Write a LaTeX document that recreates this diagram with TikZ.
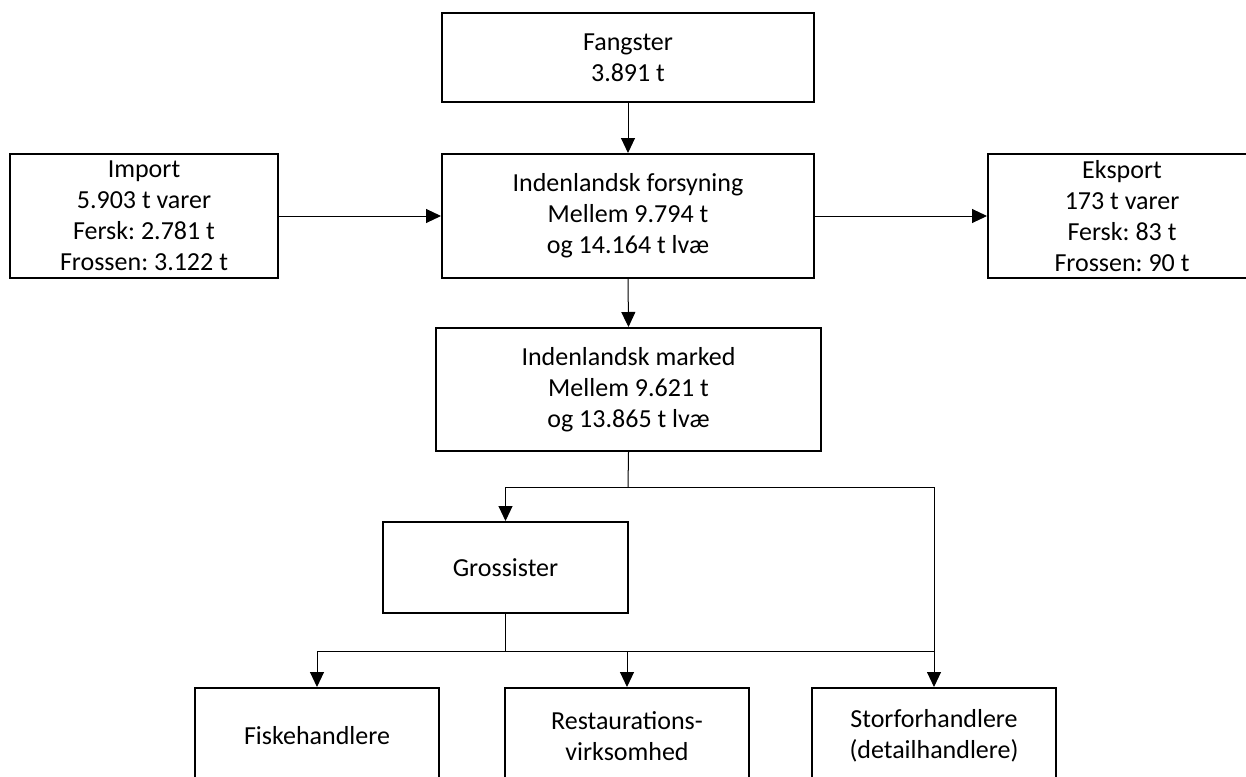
\documentclass[tikz,border=0pt]{standalone}
\usepackage{fontspec}
\setmainfont{Carlito}
\frenchspacing
\usetikzlibrary{arrows.meta}
\begin{document}
\begin{tikzpicture}[x=1pt,y=-1pt,
  box/.style={draw=black,line width=2pt,rectangle,inner sep=0pt,align=center,
    font=\fontsize{26}{31}\selectfont},
  arr/.style={draw=black,line width=1pt,-{Triangle[length=15pt,width=14pt]}},
  ln/.style={draw=black,line width=1pt}]
\useasboundingbox (0,0) rectangle (1246,776);
\node[box,minimum width=372pt,minimum height=89pt] (fang) at (628,57.5) {Fangster\\3.891 t};
\node[box,minimum width=372pt,minimum height=124pt] (fors) at (628,216) {Indenlandsk forsyning\\Mellem 9.794 t\\og 14.164 t lvæ};
\node[box,minimum width=268pt,minimum height=124pt] (imp) at (144,216) {Import\\5.903 t varer\\Fersk: 2.781 t\\Frossen: 3.122 t};
\node[box,minimum width=268pt,minimum height=124pt] (eks) at (1122,216) {Eksport\\173 t varer\\Fersk: 83 t\\Frossen: 90 t};
\node[box,minimum width=385pt,minimum height=123pt] (mark) at (628.5,389.5) {Indenlandsk marked\\Mellem 9.621 t\\og 13.865 t lvæ};
\node[box,minimum width=245pt,minimum height=91pt] (gross) at (505.5,567.5) {Grossister};
\node[box,minimum width=244pt,minimum height=96pt] (fisk) at (317,736) {Fiskehandlere};
\node[box,minimum width=244pt,minimum height=96pt] (rest) at (627,736) {Restaurations-\\virksomhed};
\node[box,minimum width=244pt,minimum height=96pt] (stor) at (934,736) {Storforhandlere\\(detailhandlere)};
\coordinate (m1) at (628,487);
\coordinate (g1) at (505.5,651);
\draw[arr] (fang.south) -- (fors.north);
\draw[arr] (imp.east) -- (fors.west);
\draw[arr] (fors.east) -- (eks.west);
\draw[arr] (fors.south) -- (mark.north);
\draw[ln] (mark.south) -- (m1);
\draw[arr] (m1) -| (gross.north);
\draw[arr] (m1) -| (stor.north);
\draw[ln] (gross.south) -- (g1);
\draw[arr] (g1) -| (fisk.north);
\draw[arr] (g1) -| (rest.north);
\draw[ln] (g1) -| (934,651);
\end{tikzpicture}
\end{document}
